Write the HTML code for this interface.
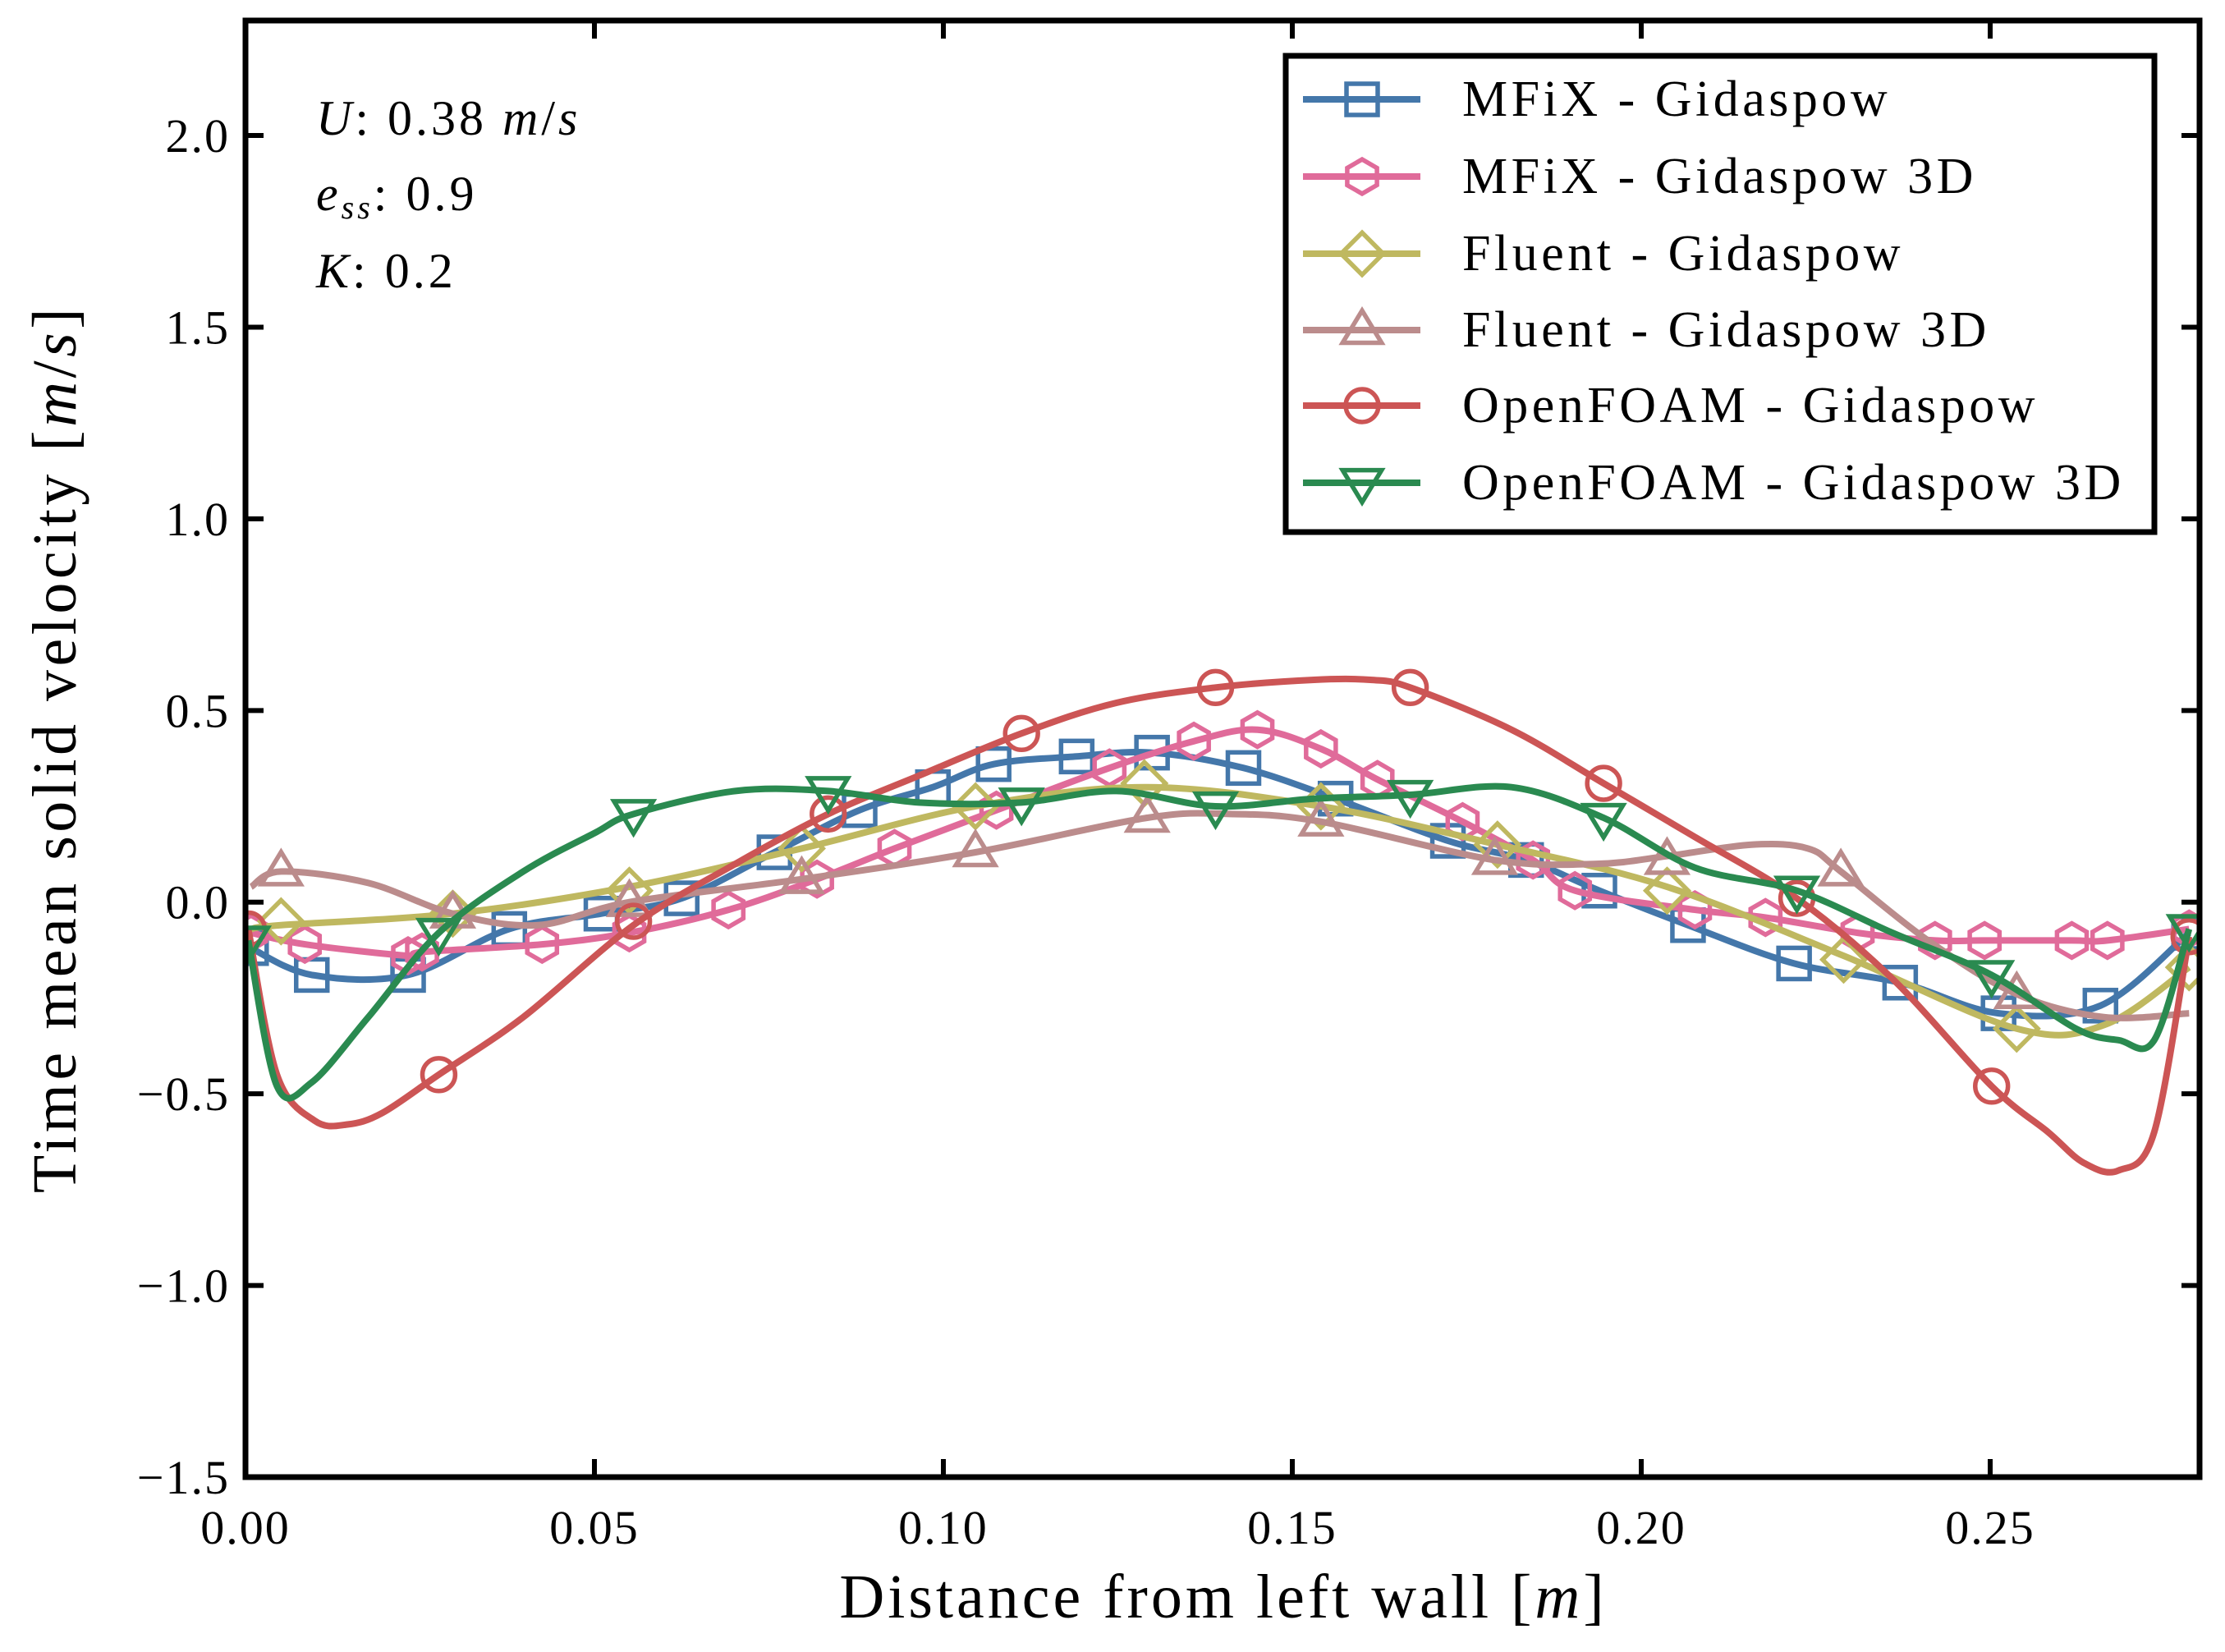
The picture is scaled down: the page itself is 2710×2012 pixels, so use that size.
<!DOCTYPE html>
<html><head><meta charset="utf-8"><style>
html,body{margin:0;padding:0;background:#fff;}
svg{display:block;font-family:"Liberation Serif",serif;}
</style></head><body>
<svg id="chart" width="2710" height="2012" viewBox="0 0 2710 2012" xmlns="http://www.w3.org/2000/svg">
<g id="marks"></g>
<g id="axes"></g>
<g id="legend"></g>
</svg>
<script>
const xTicks=[0,0.05,0.10,0.15,0.20,0.25];
const xTickLabels=["0.00","0.05","0.10","0.15","0.20","0.25"];
const yTicks=[-1.5,-1.0,-0.5,0.0,0.5,1.0,1.5,2.0];
const yTickLabels=["\u22121.5","\u22121.0","\u22120.5","0.0","0.5","1.0","1.5","2.0"];
const seriesNames=["MFiX - Gidaspow","MFiX - Gidaspow 3D","Fluent - Gidaspow","Fluent - Gidaspow 3D","OpenFOAM - Gidaspow","OpenFOAM - Gidaspow 3D"];

const mfixX=[0.0008,0.0095,0.0233,0.0378,0.0510,0.0625,0.0758,0.0880,0.0985,0.1072,0.1191,0.1299,0.1430,0.1562,0.1723,0.1835,0.1940,0.2067,0.2219,0.2371,0.2512,0.2658,0.2785];
const mfixY=[-0.12,-0.19,-0.19,-0.07,-0.03,0.01,0.13,0.24,0.30,0.36,0.38,0.39,0.35,0.27,0.16,0.11,0.03,-0.06,-0.16,-0.21,-0.29,-0.27,-0.08];

const mfix3X=[0.0008,0.0085,0.0233,0.0253,0.0425,0.0550,0.0692,0.0819,0.0930,0.1076,0.1238,0.1359,0.1450,0.1541,0.1622,0.1744,0.1845,0.1905,0.2077,0.2178,0.2310,0.2421,0.2492,0.2617,0.2668,0.2785];
const mfix3Y=[-0.08,-0.11,-0.14,-0.13,-0.11,-0.08,-0.02,0.06,0.14,0.24,0.35,0.42,0.45,0.40,0.32,0.21,0.11,0.03,-0.02,-0.04,-0.08,-0.10,-0.10,-0.10,-0.10,-0.07];

const fluentX=[0.0008,0.0051,0.0297,0.0550,0.0797,0.1046,0.1288,0.1541,0.1794,0.2037,0.2290,0.2538,0.2664,0.2785];
const fluentY=[-0.07,-0.06,-0.03,0.04,0.14,0.25,0.30,0.25,0.15,0.04,-0.14,-0.33,-0.32,-0.17];
const fluentMX=[0.0051,0.0297,0.0550,0.0797,0.1046,0.1288,0.1541,0.1794,0.2037,0.2290,0.2538,0.2785];
const fluentMY=[-0.05,-0.03,0.03,0.14,0.25,0.31,0.25,0.15,0.03,-0.15,-0.33,-0.17];

const fluent3X=[0.0008,0.0051,0.0176,0.0297,0.0419,0.0550,0.0797,0.1046,0.1292,0.1410,0.1541,0.1790,0.1936,0.2037,0.2158,0.2239,0.2286,0.2411,0.2538,0.2664,0.2785];
const fluent3Y=[0.04,0.08,0.05,-0.03,-0.06,0.00,0.06,0.13,0.22,0.23,0.21,0.11,0.10,0.12,0.15,0.14,0.08,-0.10,-0.24,-0.30,-0.29];
const fluent3MX=[0.0051,0.0297,0.0550,0.0797,0.1046,0.1292,0.1541,0.1790,0.2037,0.2286,0.2538];
const fluent3MY=[0.08,-0.03,0.00,0.06,0.13,0.22,0.21,0.11,0.11,0.08,-0.24];

const foamX=[0.0004,0.0045,0.0099,0.0146,0.0196,0.0277,0.0398,0.0556,0.0702,0.0835,0.0965,0.1112,0.1248,0.1390,0.1531,0.1612,0.1669,0.1814,0.1946,0.2077,0.2223,0.2360,0.2502,0.2583,0.2634,0.2684,0.2735,0.2785];
const foamY=[-0.07,-0.45,-0.57,-0.58,-0.55,-0.45,-0.30,-0.06,0.10,0.23,0.33,0.44,0.52,0.56,0.58,0.58,0.56,0.45,0.31,0.17,0.01,-0.20,-0.48,-0.60,-0.68,-0.70,-0.60,-0.09];
const foamMX=[0.0004,0.0277,0.0556,0.0835,0.1112,0.1390,0.1669,0.1946,0.2223,0.2502,0.2785];
const foamMY=[-0.07,-0.45,-0.05,0.23,0.44,0.56,0.56,0.31,0.01,-0.48,-0.09];

const foam3X=[0.0004,0.0045,0.0095,0.0176,0.0277,0.0398,0.0500,0.0556,0.0702,0.0835,0.0965,0.1112,0.1248,0.1390,0.1531,0.1669,0.1814,0.1946,0.2077,0.2223,0.2360,0.2502,0.2623,0.2684,0.2735,0.2785];
const foam3Y=[-0.10,-0.48,-0.47,-0.30,-0.08,0.08,0.18,0.23,0.29,0.29,0.26,0.26,0.29,0.25,0.27,0.28,0.30,0.22,0.09,0.03,-0.08,-0.19,-0.33,-0.36,-0.36,-0.07];
const foam3MX=[0.0004,0.0277,0.0556,0.0835,0.1112,0.1390,0.1669,0.1946,0.2223,0.2502,0.2785];
const foam3MY=[-0.10,-0.08,0.23,0.29,0.26,0.25,0.28,0.22,0.03,-0.19,-0.07];

const NS="http://www.w3.org/2000/svg";
const L=299,R=2679,T=25,B=1799,XMIN=0,XMAX=0.28,YMIN=-1.5,YMAX=2.3;
function sx(v){return L+(v-XMIN)/(XMAX-XMIN)*(R-L);}
function sy(v){return B-(v-YMIN)/(YMAX-YMIN)*(B-T);}
function mk(tag,attrs,parent){const e=document.createElementNS(NS,tag);for(const k in attrs)e.setAttribute(k,attrs[k]);parent.appendChild(e);return e;}

function smoothPath(px,py){
  let d="M"+px[0].toFixed(1)+","+py[0].toFixed(1);
  for(let i=0;i<px.length-1;i++){
    const x0=px[Math.max(i-1,0)],y0=py[Math.max(i-1,0)];
    const x1=px[i],y1=py[i],x2=px[i+1],y2=py[i+1];
    const x3=px[Math.min(i+2,px.length-1)],y3=py[Math.min(i+2,px.length-1)];
    const c1x=x1+(x2-x0)/6,c1y=y1+(y2-y0)/6,c2x=x2-(x3-x1)/6,c2y=y2-(y3-y1)/6;
    d+=" C"+c1x.toFixed(1)+","+c1y.toFixed(1)+" "+c2x.toFixed(1)+","+c2y.toFixed(1)+" "+x2.toFixed(1)+","+y2.toFixed(1);
  }
  return d;
}
function marker(type,cx,cy,color,parent){
  const s=19,a={fill:"none",stroke:color,"stroke-width":5.5};
  let e;
  if(type==="square"){e=mk("rect",Object.assign({x:cx-s,y:cy-s,width:2*s,height:2*s},a),parent);}
  else if(type==="hex"){let p=[];for(let k=0;k<6;k++){const an=Math.PI/6+k*Math.PI/3;p.push((cx+s*1.1*Math.cos(an)).toFixed(1)+","+(cy+s*1.1*Math.sin(an)).toFixed(1));}e=mk("polygon",Object.assign({points:p.join(" ")},a),parent);}
  else if(type==="diamond"){const r=s*1.35;e=mk("polygon",Object.assign({points:`${cx},${cy-r} ${cx+r},${cy} ${cx},${cy+r} ${cx-r},${cy}`},a),parent);}
  else if(type==="tri"){const r=s*1.25;e=mk("polygon",Object.assign({points:`${cx},${cy-r} ${cx+r},${cy+r*0.65} ${cx-r},${cy+r*0.65}`},a),parent);}
  else if(type==="tridown"){const r=s*1.25;e=mk("polygon",Object.assign({points:`${cx},${cy+r} ${cx+r},${cy-r*0.65} ${cx-r},${cy-r*0.65}`},a),parent);}
  else {e=mk("circle",Object.assign({cx:cx,cy:cy,r:s*1.05},a),parent);}
  return e;
}
const series=[
 {key:"mfix",x:mfixX,y:mfixY,mx:mfixX,my:mfixY,color:"#4477AA",m:"square"},
 {key:"mfix-3d",x:mfix3X,y:mfix3Y,mx:mfix3X,my:mfix3Y,color:"#E06B9A",m:"hex"},
 {key:"fluent",x:fluentX,y:fluentY,mx:fluentMX,my:fluentMY,color:"#BFB860",m:"diamond"},
 {key:"fluent-3d",x:fluent3X,y:fluent3Y,mx:fluent3MX,my:fluent3MY,color:"#BB8C8C",m:"tri"},
 {key:"openfoam",x:foamX,y:foamY,mx:foamMX,my:foamMY,color:"#CC5555",m:"circle"},
 {key:"openfoam-3d",x:foam3X,y:foam3Y,mx:foam3MX,my:foam3MY,color:"#2A8A50",m:"tridown"}
];
const marks=document.getElementById("marks");
const clip=mk("clipPath",{id:"pc"},mk("defs",{},marks));
mk("rect",{x:L,y:T,width:R-L,height:B-T},clip);
series.forEach(s=>{
  const g=mk("g",{"clip-path":"url(#pc)"},marks);
  
  
  const p=mk("path",{d:smoothPath(s.x.map(sx),s.y.map(sy)),fill:"none",stroke:s.color,"stroke-width":8,"stroke-linejoin":"round"},g);
  
  
  for(let i=0;i<s.mx.length;i++){
    const e=marker(s.m,sx(s.mx[i]),sy(s.my[i]),s.color,g);
    
    
  }
});
const ax=document.getElementById("axes");
const frame=mk("rect",{x:L,y:T,width:R-L,height:B-T,fill:"none",stroke:"#000","stroke-width":7},ax);


xTicks.forEach((v,i)=>{
  const x=sx(v);
  mk("line",{x1:x,y1:B,x2:x,y2:B-22,stroke:"#000","stroke-width":6},ax);
  mk("line",{x1:x,y1:T,x2:x,y2:T+22,stroke:"#000","stroke-width":6},ax);
  const t=mk("text",{x:x,y:1880,"text-anchor":"middle","font-size":58,"letter-spacing":2},ax);
  t.textContent=xTickLabels[i];
  
  
});
yTicks.forEach((v,i)=>{
  const y=sy(v);
  mk("line",{x1:L,y1:y,x2:L+22,y2:y,stroke:"#000","stroke-width":6},ax);
  mk("line",{x1:R,y1:y,x2:R-22,y2:y,stroke:"#000","stroke-width":6},ax);
  const t=mk("text",{x:280,y:y+20,"text-anchor":"end","font-size":58,"letter-spacing":2},ax);
  t.textContent=yTickLabels[i];
  
  
});
const svg=document.getElementById("chart");
function addText(txt,attrs,name){const t=document.createElementNS(NS,"text");for(const k in attrs)t.setAttribute(k,attrs[k]);t.innerHTML=txt;svg.appendChild(t);


return t;}
addText("Distance from left wall [<tspan font-style='italic'>m</tspan>]",{x:1490,y:1970,"text-anchor":"middle","font-size":76,"letter-spacing":4},"x-axis-title");
addText("Time mean solid velocity [<tspan font-style='italic'>m</tspan>/<tspan font-style='italic'>s</tspan>]",{x:0,y:0,"text-anchor":"middle","font-size":76,"letter-spacing":4.5,transform:"translate(92,912) rotate(-90)"},"y-axis-title");
addText("<tspan font-style='italic'>U</tspan>: 0.38 <tspan font-style='italic'>m</tspan>/<tspan font-style='italic'>s</tspan>",{x:385,y:164,"font-size":60,"letter-spacing":4},"annotation-velocity");
addText("<tspan font-style='italic'>e</tspan><tspan font-style='italic' font-size='40' dy='10'>ss</tspan><tspan dy='-10'>: 0.9</tspan>",{x:385,y:256,"font-size":60,"letter-spacing":4},"annotation-restitution");
addText("<tspan font-style='italic'>K</tspan>: 0.2",{x:385,y:350,"font-size":60,"letter-spacing":4},"annotation-k");
const lg=document.getElementById("legend");
const box=mk("rect",{x:1566,y:68,width:1058,height:580,fill:"#fff",stroke:"#000","stroke-width":7},lg);


const rows=[121,215,309,402,494,588];
series.forEach((s,i)=>{
  const g=mk("g",{},lg);
  
  
  mk("line",{x1:1587,y1:rows[i],x2:1730,y2:rows[i],stroke:s.color,"stroke-width":8},g);
  marker(s.m,1659,rows[i],s.color,g);
  const t=mk("text",{x:1781,y:rows[i]+20,"font-size":62,"letter-spacing":4.5},g);
  t.textContent=seriesNames[i];
});
</script>
</body></html>
